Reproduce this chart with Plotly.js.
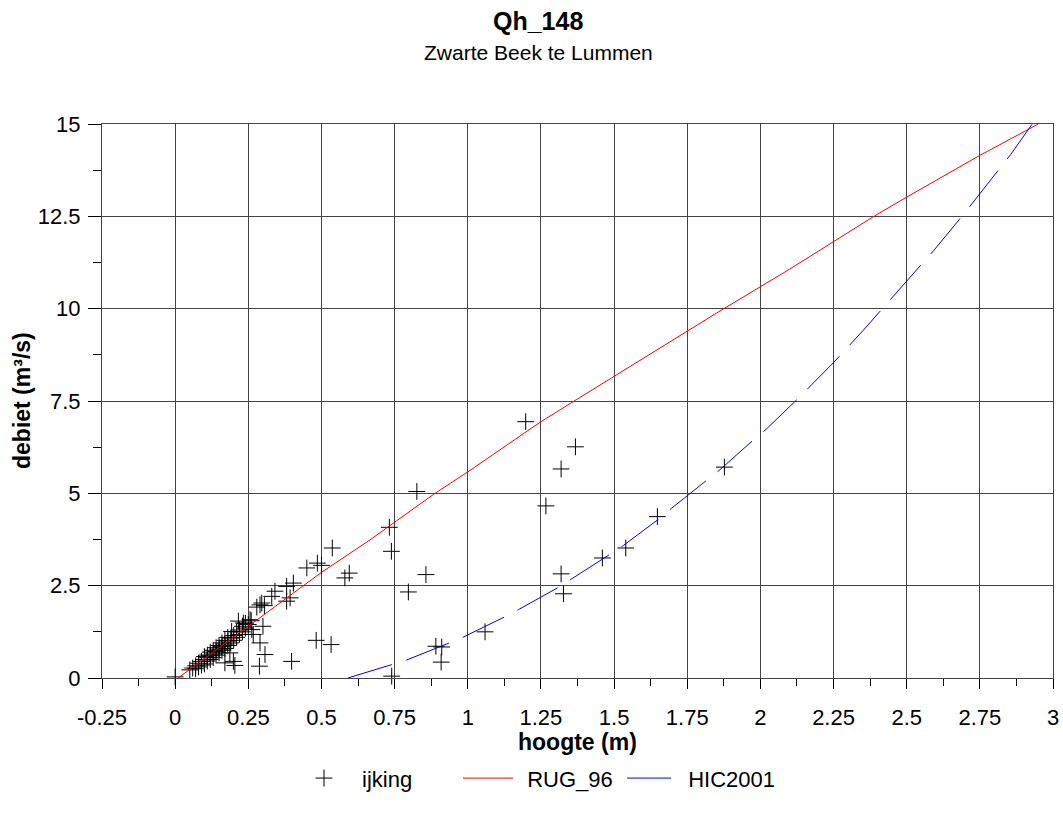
<!DOCTYPE html>
<html><head><meta charset="utf-8">
<script src="https://cdn.plot.ly/plotly-3.0.1.min.js"></script>
<style>html,body{margin:0;padding:0;background:#fff}#chart{width:1063px;height:823px}</style>
</head><body><div id="chart"></div>
<script>
// ---- data ----
const ijkingH = [
  0.05,0.06,0.07,0.07,0.08,0.08,0.09,0.09,0.10,0.10,0.10,0.11,0.11,0.11,0.12,0.12,0.12,
  0.13,0.13,0.13,0.14,0.14,0.14,0.15,0.15,0.15,0.16,0.16,0.16,0.17,0.17,0.17,0.18,0.18,0.18,
  0.19,0.19,0.20,0.20,0.21,0.21,0.22,0.22,0.23,0.23,0.24,0.24,0.25,0.26,
  1.198,1.368,1.319,0.826,1.267,1.877,1.648,1.54,1.46,0.732,0.739,0.537,0.486,0.45,0.50,
  0.595,0.58,0.857,0.797,1.319,1.327,0.482,0.533,1.059,0.891,0.911,0.909,0.74,0.0,
  0.398,0.307,0.288,0.29,0.267,0.30,0.199,0.204,0.17,0.187,0.404,0.381,0.341,0.33,0.381,
  0.393,0.279,0.296,0.305,0.29,0.216,0.256,0.233,0.193,0.262
];
const ijkingQ = [
  0.22,0.27,0.25,0.33,0.30,0.40,0.35,0.45,0.38,0.50,0.58,0.46,0.55,0.62,0.50,0.60,0.70,
  0.55,0.65,0.75,0.62,0.72,0.82,0.68,0.78,0.88,0.75,0.85,0.95,0.80,0.92,1.02,0.88,1.00,1.10,
  0.95,1.08,1.02,1.15,1.10,1.25,1.18,1.30,1.25,1.40,1.35,1.48,1.45,1.55,
  6.94,6.26,5.66,5.05,4.66,5.71,4.37,3.52,3.25,4.08,3.43,3.52,3.11,2.98,3.05,
  2.84,2.71,2.80,2.33,2.82,2.28,1.02,0.905,1.25,0.86,0.84,0.43,0.05,0.03,
  0.45,0.635,0.32,0.95,1.18,1.40,0.45,0.34,0.41,0.68,2.57,2.48,2.35,2.21,2.08,
  2.17,1.92,2.03,1.96,1.98,1.54,1.58,1.49,1.26,1.31
];
const rugH = [0.01,0.25,0.5,0.666,0.888,1.0,1.25,1.37,1.6,1.85,2.1,2.306,2.388,2.5,2.75,2.95];
const rugQ = [0,1.40,2.86,3.74,5.0,5.58,6.94,7.53,8.66,9.88,11.07,12.1,12.5,13.02,14.15,15.0];
const hicH = [0.59,0.74,0.789,0.937,0.985,1.125,1.173,1.309,1.355,1.488,1.532,1.623,1.657,1.697,1.818,1.862,1.978,2.019,2.124,2.25,2.35,2.454,2.557,2.593,2.694,2.726,2.825,2.856,2.928];
const hicQ = [0,0.35,0.48,0.95,1.11,1.65,1.85,2.45,2.68,3.36,3.59,4.12,4.33,4.6,5.38,5.64,6.46,6.73,7.53,8.54,9.4,10.32,11.25,11.58,12.55,12.87,13.85,14.18,14.99];
const xTickVals = [-0.25,0,0.25,0.5,0.75,1,1.25,1.5,1.75,2,2.25,2.5,2.75,3];
const xTickText = ['-0.25','0','0.25','0.5','0.75','1','1.25','1.5','1.75','2','2.25','2.5','2.75','3'];
const yTickVals = [0,2.5,5,7.5,10,12.5,15];
const yTickText = ['0','2.5','5','7.5','10','12.5','15'];
const seriesNames = ['ijking','RUG_96','HIC2001'];
const titleText = 'Qh_148';
const subtitleText = 'Zwarte Beek te Lummen';
const xTitle = 'hoogte (m)';
const yTitle = 'debiet (m³/s)';

const FONT = 'Liberation Sans, Arial, sans-serif';
const GRID = '#444';

const traces = [
  {x: ijkingH, y: ijkingQ, type: 'scatter', mode: 'markers', name: seriesNames[0], legend: 'legend',
   cliponaxis: false,
   marker: {symbol: 'cross-thin', size: 12, color: '#000', line: {color: '#000', width: 1}}},
  {x: rugH, y: rugQ, type: 'scatter', mode: 'lines', name: '\u2004\u200A' + seriesNames[1], legend: 'legend2',
   line: {color: '#ff0000', width: 1}},
  {x: hicH, y: hicQ, type: 'scatter', mode: 'lines', name: '\u2007' + seriesNames[2], legend: 'legend3',
   line: {color: '#0000ff', width: 1, dash: '46px,15px'}}
];

const axCommon = {showgrid: false, zeroline: false, showline: false, showticklabels: false};
const legCommon = {orientation: 'h', yanchor: 'middle', y: -0.181, xanchor: 'left',
  font: {family: FONT, size: 22, color: '#000'}, bgcolor: 'rgba(0,0,0,0)', borderwidth: 0};

const layout = {
  width: 1063, height: 823,
  margin: {l: 102, r: 10, t: 124, b: 145, pad: 0},
  paper_bgcolor: '#fff', plot_bgcolor: '#fff',
  font: {family: FONT, size: 22, color: '#000'},
  showlegend: true,
  xaxis: {range: [-0.25, 3], tickmode: 'array', tickvals: xTickVals, ticktext: xTickText,
    ticks: 'outside', ticklen: 10, tickcolor: '#000', tickwidth: 1, ticklabelstandoff: 10,
    showgrid: true, gridcolor: GRID, gridwidth: 1, zeroline: false,
    showline: true, mirror: true, linecolor: GRID, linewidth: 1,
    tickfont: {family: FONT, size: 22, color: '#000'},
    minor: {dtick: 0.125, tick0: -0.25, ticks: 'outside', ticklen: 7, tickcolor: '#000', showgrid: false}},
  xaxis2: Object.assign({}, axCommon, {range: [-0.25, 3], overlaying: 'x', anchor: 'y', side: 'bottom',
    tickmode: 'linear', tick0: -0.25, dtick: 0.25, ticks: 'inside', ticklen: 10, tickcolor: '#000',
    minor: {dtick: 0.125, tick0: -0.25, ticks: 'inside', ticklen: 6, tickcolor: '#000', showgrid: false}}),
  yaxis: {range: [0, 15], tickmode: 'array', tickvals: yTickVals, ticktext: yTickText,
    ticks: 'outside', ticklen: 13, tickcolor: '#000', tickwidth: 1, ticklabelstandoff: 3,
    showgrid: true, gridcolor: GRID, gridwidth: 1, zeroline: false,
    showline: true, mirror: true, linecolor: GRID, linewidth: 1,
    tickfont: {family: FONT, size: 22, color: '#000'},
    minor: {dtick: 1.25, tick0: 0, ticks: 'outside', ticklen: 8, tickcolor: '#000', showgrid: false}},
  yaxis2: Object.assign({}, axCommon, {range: [0, 15], overlaying: 'y', anchor: 'x', side: 'left',
    tickmode: 'linear', tick0: 0, dtick: 2.5, ticks: 'inside', ticklen: 13, tickcolor: '#000',
    minor: {dtick: 1.25, tick0: 0, ticks: 'inside', ticklen: 9, tickcolor: '#000', showgrid: false}}),
  legend: Object.assign({}, legCommon, {x: (286 - 102) / 951, itemwidth: 66}),
  legend2: Object.assign({}, legCommon, {x: (458 - 102) / 951, itemwidth: 50}),
  legend3: Object.assign({}, legCommon, {x: (622 - 102) / 951, itemwidth: 44}),
  annotations: [
    {text: '<b>' + titleText + '</b>', xref: 'paper', yref: 'paper', x: (538 - 102) / 951, y: (678.5 - 21) / 554.5,
     xanchor: 'center', yanchor: 'middle', showarrow: false, font: {family: FONT, size: 25, color: '#000'}},
    {text: subtitleText, xref: 'paper', yref: 'paper', x: (538 - 102) / 951, y: (678.5 - 52) / 554.5,
     xanchor: 'center', yanchor: 'middle', showarrow: false, font: {family: FONT, size: 21, color: '#000'}},
    {text: '<b>' + xTitle + '</b>', xref: 'paper', yref: 'paper', x: 0.5, y: (678.5 - 743) / 554.5,
     xanchor: 'center', yanchor: 'middle', showarrow: false, font: {family: FONT, size: 23, color: '#000'}},
    {text: '<b>' + yTitle + '</b>', xref: 'paper', yref: 'paper', x: (22 - 102) / 951, y: 0.5, textangle: -90,
     xanchor: 'center', yanchor: 'middle', showarrow: false, font: {family: FONT, size: 23, color: '#000'}}
  ]
};

Plotly.newPlot('chart', traces, layout, {displayModeBar: false, staticPlot: true});
</script>
</body></html>
